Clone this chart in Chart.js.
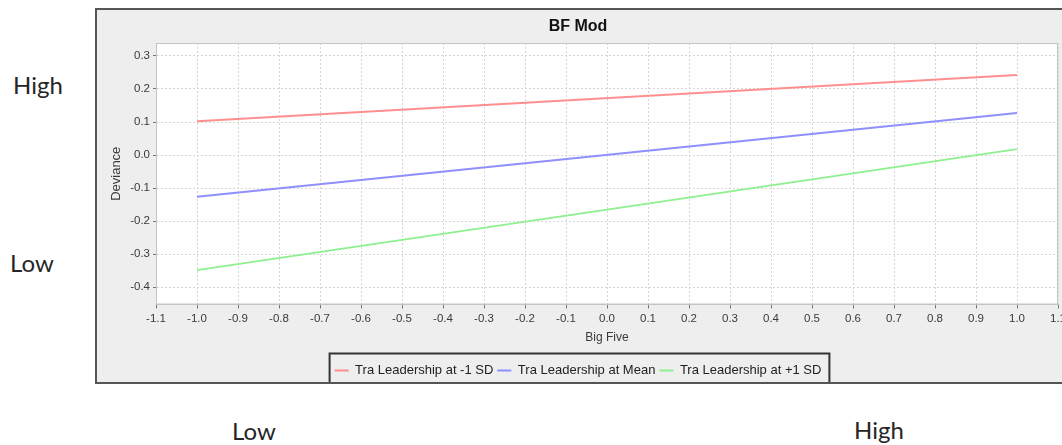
<!DOCTYPE html>
<html>
<head>
<meta charset="utf-8">
<script src="https://cdn.jsdelivr.net/npm/chart.js@4/dist/chart.umd.min.js"></script>
<style>
    body { margin: 0; background: #fff; width: 1062px; height: 445px; overflow: hidden; position: relative; }
    #marco { position: absolute; left: 95px; top: 8px; width: 972px; height: 372px; border: 2px solid #555; background: #eeeeee; }
    .etiqueta { position: absolute; font-family: Lato, 'Open Sans', sans-serif; font-size: 24px; color: #262626; line-height: normal; }
</style>
</head>
<body>

<div class="etiqueta" style="left:13px; top:70px;">High</div>
<div class="etiqueta" style="left:10px; top:248px;">Low</div>
<div class="etiqueta" style="left:232px; top:416px;">Low</div>
<div class="etiqueta" style="left:854px; top:415px;">High</div>

<div id="marco">
    <canvas id="chart-bf" width="972" height="372"></canvas>
</div>

<script>
                        /*
                            ========================
                                 DATOS BF MOD
                            ========================
                                                      */
let bigFive = [-1.0, 1.0];

let nombresSeries = ['Tra Leadership at -1 SD', 'Tra Leadership at Mean', 'Tra Leadership at +1 SD'];

let menos1SD = [0.102, 0.242];
let media = [-0.126, 0.127];
let mas1SD = [-0.348, 0.018];

let coloresSeries = ['#ff8f8f', '#8f8fff', '#8ff08f'];

let ticksX = [-1.1, 1.1];      // rango eje x (paso 0.1)
let ticksY = [-0.452, 0.339];  // rango eje y (paso 0.1)

function puntos(valores) {
    return bigFive.map((x, i) => ({ x: x, y: valores[i] }));
}

function formato(v) {
    if (Math.abs(v) < 1e-9) return '0.0';
    return Number(v).toFixed(1);
}

let datosBF = {
    datasets: [menos1SD, media, mas1SD].map((serie, i) => ({
        label: nombresSeries[i],
        data: puntos(serie),
        borderColor: coloresSeries[i],
        backgroundColor: coloresSeries[i],
        borderWidth: 2,
        pointRadius: 0,
        fill: false,
        tension: 0,
    }))
};

/* fondo blanco y borde del área de la gráfica, caja de la leyenda */
let pluginMarco = {
    id: 'marco',
    beforeDraw(chart) {
        let a = chart.chartArea;
        let ctx = chart.ctx;
        ctx.save();
        ctx.fillStyle = '#ffffff';
        ctx.fillRect(a.left, a.top, a.right - a.left, a.bottom - a.top);
        ctx.restore();
    },
    afterDraw(chart) {
        let a = chart.chartArea;
        let ctx = chart.ctx;
        ctx.save();
        ctx.strokeStyle = '#c4c4c4';
        ctx.lineWidth = 1;
        ctx.strokeRect(a.left + 0.5, a.top + 0.5, a.right - a.left - 1, a.bottom - a.top - 1);

        let cajas = chart.legend.legendHitBoxes;
        if (cajas && cajas.length) {
            let izq = Math.min(...cajas.map(c => c.left)) - 5;
            let der = Math.max(...cajas.map(c => c.left + c.width)) + 8;
            let arriba = chart.legend.top - 6.5;
            ctx.strokeStyle = '#333';
            ctx.lineWidth = 2;
            ctx.strokeRect(izq, arriba, der - izq, chart.height - arriba + 2);
        }
        ctx.restore();
    }
};

let opcionesBF = {
    responsive: false,
    animation: false,
    layout: {
        padding: { left: 0, right: 10, top: 0, bottom: -5 }
    },
    scales: {
        x: {
            type: 'linear',
            min: ticksX[0],
            max: ticksX[1],
            afterFit(scale) { scale.height = 55.5; },
            ticks: {
                stepSize: 0.1,
                autoSkip: false,
                maxRotation: 0,
                padding: 3,
                color: '#3a3a3a',
                font: { family: 'Liberation Sans', size: 11.5 },
                callback: formato
            },
            grid: { color: '#d6d6d6', tickColor: '#777', tickLength: 4, tickBorderDash: [] },
            border: { dash: [2, 2], color: '#c4c4c4' },
            title: {
                display: true,
                text: 'Big Five',
                color: '#3a3a3a',
                font: { family: 'Liberation Sans', size: 12 },
                padding: { top: 0, bottom: 15.3 }
            }
        },
        y: {
            min: ticksY[0],
            max: ticksY[1],
            afterFit(scale) { scale.width = 59; },
            ticks: {
                stepSize: 0.1,
                includeBounds: false,
                padding: 3,
                color: '#3a3a3a',
                font: { family: 'Liberation Sans', size: 11.5 },
                callback: formato
            },
            grid: { color: '#d6d6d6', tickColor: '#777', tickLength: 3, tickBorderDash: [] },
            border: { dash: [2, 2], color: '#c4c4c4' },
            title: {
                display: true,
                text: 'Deviance',
                color: '#3a3a3a',
                font: { family: 'Liberation Sans', size: 13 },
                padding: { top: 12, bottom: 0 }
            }
        }
    },
    plugins: {
        title: {
            display: true,
            text: 'BF Mod',
            color: '#111',
            font: { family: 'Liberation Sans', size: 16, weight: 'bold' },
            padding: { top: 7.2, bottom: 6.6 }
        },
        legend: {
            position: 'bottom',
            labels: {
                usePointStyle: true,
                pointStyle: 'line',
                pointStyleWidth: 14,
                padding: 4,
                color: '#222',
                font: { family: 'Liberation Sans', size: 13 }
            }
        },
        tooltip: { enabled: false }
    }//plugins
}//opciones

let ctxBF = document.getElementById('chart-bf');

let graficaBF = new Chart(ctxBF, {
    type: 'line',
    data: datosBF,
    options: opcionesBF,
    plugins: [pluginMarco]
});
</script>
</body>
</html>
